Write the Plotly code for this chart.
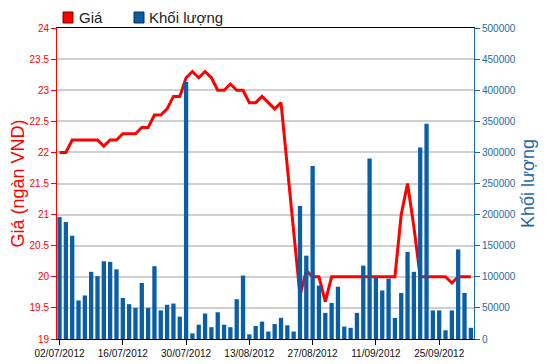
import plotly.graph_objects as go

dates = [
    "02/07/2012", "03/07/2012", "04/07/2012", "05/07/2012", "06/07/2012",
    "09/07/2012", "10/07/2012", "11/07/2012", "12/07/2012", "13/07/2012",
    "16/07/2012", "17/07/2012", "18/07/2012", "19/07/2012", "20/07/2012",
    "23/07/2012", "24/07/2012", "25/07/2012", "26/07/2012", "27/07/2012",
    "30/07/2012", "31/07/2012", "01/08/2012", "02/08/2012", "03/08/2012",
    "06/08/2012", "07/08/2012", "08/08/2012", "09/08/2012", "10/08/2012",
    "13/08/2012", "14/08/2012", "15/08/2012", "16/08/2012", "17/08/2012",
    "20/08/2012", "21/08/2012", "22/08/2012", "23/08/2012", "24/08/2012",
    "27/08/2012", "28/08/2012", "29/08/2012", "30/08/2012", "31/08/2012",
    "04/09/2012", "05/09/2012", "06/09/2012", "07/09/2012", "10/09/2012",
    "11/09/2012", "12/09/2012", "13/09/2012", "14/09/2012", "17/09/2012",
    "18/09/2012", "19/09/2012", "20/09/2012", "21/09/2012", "24/09/2012",
    "25/09/2012", "26/09/2012", "27/09/2012", "28/09/2012", "01/10/2012",
    "02/10/2012",
]

price = [
    22.0, 22.0, 22.2, 22.2, 22.2, 22.2, 22.2, 22.1, 22.2, 22.2,
    22.3, 22.3, 22.3, 22.4, 22.4, 22.6, 22.6, 22.7, 22.9, 22.9,
    23.2, 23.3, 23.2, 23.3, 23.2, 23.0, 23.0, 23.1, 23.0, 23.0,
    22.8, 22.8, 22.9, 22.8, 22.7, 22.8, 21.8, 20.7, 19.7, 20.1,
    20.0, 20.0, 19.6, 20.0, 20.0, 20.0, 20.0, 20.0, 20.0, 20.0,
    20.0, 20.0, 20.0, 20.0, 21.0, 21.5, 20.8, 20.0, 20.0, 20.0,
    20.0, 20.0, 19.9, 20.0, 20.0, 20.0,
]

volume = [
    196000, 188000, 166000, 62000, 70000, 108000, 101000, 125000, 124000, 112000,
    66000, 56000, 50000, 90000, 50000, 117000, 46000, 55000, 57000, 36000,
    413000, 9000, 23000, 41000, 19000, 43000, 23000, 19000, 64000, 102000,
    7500, 21000, 28000, 12000, 24000, 34000, 22000, 12000, 214000, 134000,
    278000, 86000, 42000, 58000, 84000, 20000, 18000, 42000, 118000, 290000,
    100000, 78000, 97000, 34000, 74000, 140000, 108000, 308000, 346000, 46000,
    46000, 14000, 46000, 144000, 74000, 18000,
]

tick_dates = ["02/07/2012", "16/07/2012", "30/07/2012", "13/08/2012",
              "27/08/2012", "11/09/2012", "25/09/2012"]

legend_names = ["Giá", "Khối lượng"]

RED = "#FF0000"
BLUE = "#0A5EA6"
AXBLUE = "#1D6AA5"
SANS = "Liberation Sans, Arial, sans-serif"

# the page body has an 8px default margin; size the figure to fit the window
OFF = 8
W, H = 550 - OFF, 364 - OFF
L, R, T, B = 57 - OFF, 76, 28 - OFF, 25
PW, PH = W - L - R, H - T - B


def px(x):  # page pixel -> paper
    return (x - OFF - L) / PW


def py(y):
    return (H - B - (y - OFF)) / PH


fig = go.Figure()
fig.add_trace(go.Bar(x=dates, y=volume, yaxis="y2", name=legend_names[1],
                     marker=dict(color=BLUE, line=dict(width=0)),
                     showlegend=False))
fig.add_trace(go.Scatter(x=dates, y=price, yaxis="y", name=legend_names[0],
                         mode="lines", line=dict(color=RED, width=3),
                         showlegend=False))

shapes = [
    dict(type="rect", xref="paper", yref="paper", x0=px(63), x1=px(73),
         y0=py(23), y1=py(12), fillcolor=RED, line=dict(color="#7a0000", width=1)),
    dict(type="rect", xref="paper", yref="paper", x0=px(134), x1=px(144),
         y0=py(23), y1=py(12), fillcolor=BLUE, line=dict(color="#0b2f55", width=1)),
]
annotations = [
    dict(text=legend_names[0], xref="paper", yref="paper", x=px(77), y=py(17.5),
         xanchor="left", yanchor="middle", showarrow=False,
         font=dict(family=SANS, size=15, color="#222222")),
    dict(text=legend_names[1], xref="paper", yref="paper", x=px(147), y=py(17.5),
         xanchor="left", yanchor="middle", showarrow=False,
         font=dict(family=SANS, size=15, color="#222222")),
]

fig.update_layout(
    width=W, height=H,
    margin=dict(l=L, r=R, t=T, b=B, pad=0),
    paper_bgcolor="white", plot_bgcolor="white",
    bargap=0.32,
    shapes=shapes, annotations=annotations,
    xaxis=dict(type="category", range=[-0.4, 65.5], tickmode="array",
               tickvals=tick_dates, ticktext=tick_dates, automargin=False,
               ticks="outside", ticklen=5, tickcolor="black",
               showline=True, linecolor="black", linewidth=1, mirror=True,
               showgrid=False, tickangle=0,
               tickfont=dict(family=SANS, size=10, color="#111111")),
    yaxis=dict(range=[19, 24], dtick=0.5, tick0=19, automargin=False,
               ticks="outside", ticklen=5, tickcolor=RED,
               showline=True, linecolor=RED, linewidth=1,
               showgrid=True, gridcolor="#CFCFCF", gridwidth=1.5, zeroline=False,
               tickfont=dict(family=SANS, size=10, color=RED),
               title=dict(text="Giá (ngàn VND)", standoff=8,
                          font=dict(family=SANS, size=18, color=RED))),
    yaxis2=dict(range=[0, 500000], dtick=50000, tick0=0, overlaying="y",
                side="right", tickformat="d", automargin=False,
                ticks="outside", ticklen=5, tickcolor=AXBLUE,
                showline=True, linecolor=AXBLUE, linewidth=1,
                showgrid=False, zeroline=False,
                tickfont=dict(family=SANS, size=10, color=AXBLUE),
                title=dict(text="Khối lượng", standoff=6,
                           font=dict(family=SANS, size=18, color=AXBLUE))),
)

fig.write_html("out.html")
